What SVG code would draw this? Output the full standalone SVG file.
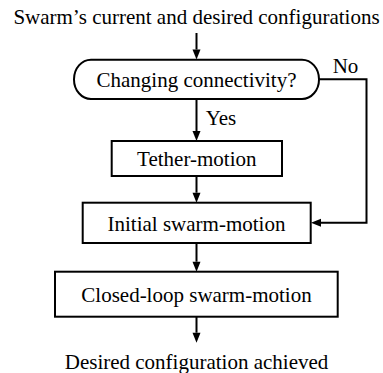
<svg xmlns="http://www.w3.org/2000/svg" width="383" height="373" viewBox="0 0 383 373">
<style>
.t{font-family:'Liberation Serif',serif;font-size:21px;fill:#000;text-anchor:middle}
.box{fill:#fff;stroke:#000;stroke-width:2}
.edge{fill:none;stroke:#000;stroke-width:2}
</style>
<defs>
<marker id="arr" markerUnits="userSpaceOnUse" markerWidth="10" markerHeight="8" refX="0" refY="4" orient="auto" overflow="visible">
<path d="M0,0 L10,4 L0,8 Z" fill="#000"/>
</marker>
</defs>
<rect width="383" height="373" fill="#fff"/>
<g id="title"><text class="t" x="196.5" y="24">Swarm’s current and desired configurations</text></g>
<g id="connectors">
<line class="edge" x1="196.5" y1="33" x2="196.5" y2="49.5" marker-end="url(#arr)"/>
<line class="edge" x1="196.5" y1="99" x2="196.5" y2="131" marker-end="url(#arr)"/>
<line class="edge" x1="196.5" y1="176" x2="196.5" y2="192.7" marker-end="url(#arr)"/>
<line class="edge" x1="196.5" y1="243" x2="196.5" y2="261.7" marker-end="url(#arr)"/>
<line class="edge" x1="196.5" y1="316.7" x2="196.5" y2="332.7" marker-end="url(#arr)"/>
<polyline class="edge" points="319,79.3 366.5,79.3 366.5,222.8 321,222.8" marker-end="url(#arr)"/>
<text class="t" x="345.5" y="72.5">No</text>
<text class="t" x="221" y="125">Yes</text>
</g>
<g id="decision">
<rect class="box" x="74" y="59.7" width="245" height="39.3" rx="17" ry="19.6"/>
<text class="t" x="196.5" y="87">Changing connectivity?</text>
</g>
<g id="tether">
<rect class="box" x="111.7" y="141" width="170.3" height="35"/>
<text class="t" x="196.8" y="165.5">Tether-motion</text>
</g>
<g id="initial">
<rect class="box" x="82.7" y="202.7" width="228" height="40.3"/>
<text class="t" x="196.5" y="230.5">Initial swarm-motion</text>
</g>
<g id="closed">
<rect class="box" x="55" y="271.7" width="282.7" height="45"/>
<text class="t" x="196.5" y="301.5">Closed-loop swarm-motion</text>
</g>
<g id="end"><text class="t" x="196.5" y="369">Desired configuration achieved</text></g>
</svg>
